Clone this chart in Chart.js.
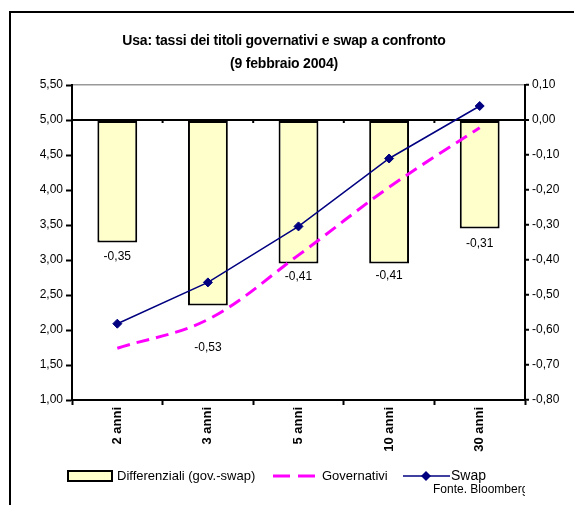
<!DOCTYPE html>
<html>
<head>
<meta charset="utf-8">
<script src="https://cdn.jsdelivr.net/npm/chart.js@4/dist/chart.umd.min.js"></script>
<style>
html,body{margin:0;padding:0;background:#fff;}
#wrap{width:574px;height:505px;position:relative;}
</style>
</head>
<body>
<div id="wrap"><canvas id="c" width="574" height="505"></canvas></div>
<script>
// ---- data ----
const categories = ['2 anni', '3 anni', '5 anni', '10 anni', '30 anni'];
const differenziali = [-0.35, -0.53, -0.41, -0.41, -0.31];
const governativi = [1.74, 2.15, 3.07, 4.04, 4.89];
const swap = [2.09, 2.68, 3.48, 4.45, 5.20];
const titleLines = ['Usa: tassi dei titoli governativi e swap a confronto', '(9 febbraio 2004)'];
const legendLabels = ['Differenziali (gov.-swap)', 'Governativi', 'Swap'];
const sourceNote = 'Fonte. Bloomberg';

// ---- styles ----
const FONT = "'Liberation Sans', Arial, sans-serif";
const labelOffsets = [14, 42, 13, 12, 15];
const barFill = '#FFFFCC';
const govColor = '#FF00FF';
const swapColor = '#000080';

function fmt(v) {
  if (Math.abs(v) < 1e-9) v = 0;
  return v.toFixed(2).replace('.', ',');
}

Chart.defaults.font.family = FONT;
Chart.defaults.color = '#000';

const extras = {
  id: 'extras',
  beforeDraw(chart) {
    const ctx = chart.ctx;
    ctx.save();
    ctx.fillStyle = '#fff';
    ctx.fillRect(0, 0, chart.width, chart.height);
    ctx.restore();
  },
  afterDatasetsDraw(chart) {
    const ctx = chart.ctx;
    // bar value labels
    const meta = chart.getDatasetMeta(2);
    ctx.save();
    ctx.font = '12px ' + FONT;
    ctx.fillStyle = '#000';
    ctx.textAlign = 'center';
    ctx.textBaseline = 'middle';
    meta.data.forEach((bar, i) => {
      ctx.fillText(fmt(differenziali[i]), bar.x, bar.y + labelOffsets[i]);
    });
    ctx.restore();
  },
  afterDraw(chart) {
    const ctx = chart.ctx;
    const xs = chart.scales.x;
    const y2 = chart.scales.y2;
    ctx.save();
    // small ticks on the zero line at category boundaries
    const zy = y2.getPixelForValue(0);
    ctx.strokeStyle = '#000';
    ctx.lineWidth = 2;
    for (let i = 0; i < categories.length - 1; i++) {
      const bx = (xs.getPixelForTick(i) + xs.getPixelForTick(i + 1)) / 2;
      ctx.beginPath();
      ctx.moveTo(bx, zy);
      ctx.lineTo(bx, zy + 3);
      ctx.stroke();
    }
    // outer border
    ctx.lineWidth = 2;
    ctx.strokeStyle = '#000';
    ctx.strokeRect(10, 12, chart.width + 10, chart.height + 10);
    // title
    ctx.fillStyle = '#000';
    ctx.textAlign = 'center';
    ctx.textBaseline = 'middle';
    ctx.font = 'bold 14px ' + FONT;
    try { ctx.letterSpacing = '-0.2px'; } catch (e) {}
    ctx.fillText(titleLines[0], 284, 41);
    ctx.fillText(titleLines[1], 284, 64);
    try { ctx.letterSpacing = '0px'; } catch (e) {}
    // legend
    const ly = 476;
    ctx.font = '13px ' + FONT;
    ctx.textAlign = 'left';
    ctx.fillStyle = barFill;
    ctx.fillRect(68, ly - 5, 44, 10);
    ctx.lineWidth = 2;
    ctx.strokeStyle = '#000';
    ctx.strokeRect(68, ly - 5, 44, 10);
    ctx.fillStyle = '#000';
    ctx.fillText(legendLabels[0], 117, ly);
    ctx.strokeStyle = govColor;
    ctx.lineWidth = 3;
    ctx.setLineDash([17, 8]);
    ctx.beginPath();
    ctx.moveTo(273, ly);
    ctx.lineTo(315, ly);
    ctx.stroke();
    ctx.setLineDash([]);
    ctx.fillText(legendLabels[1], 322, ly);
    ctx.strokeStyle = swapColor;
    ctx.lineWidth = 1.5;
    ctx.beginPath();
    ctx.moveTo(403, ly);
    ctx.lineTo(450, ly);
    ctx.stroke();
    ctx.fillStyle = swapColor;
    ctx.beginPath();
    ctx.moveTo(426, ly - 5);
    ctx.lineTo(431, ly);
    ctx.lineTo(426, ly + 5);
    ctx.lineTo(421, ly);
    ctx.closePath();
    ctx.fill();
    ctx.fillStyle = '#000';
    ctx.font = '14px ' + FONT;
    ctx.fillText(legendLabels[2], 451, ly);
    // source note, clipped
    ctx.save();
    ctx.beginPath();
    ctx.rect(0, 480, 525, 25);
    ctx.clip();
    ctx.font = '12px ' + FONT;
    ctx.fillText(sourceNote, 433, 490);
    ctx.restore();
    ctx.restore();
  }
};

new Chart(document.getElementById('c'), {
  type: 'bar',
  data: {
    labels: categories,
    datasets: [
      {
        type: 'line',
        label: legendLabels[2],
        data: swap,
        yAxisID: 'y',
        borderColor: swapColor,
        backgroundColor: swapColor,
        borderWidth: 1.5,
        pointStyle: 'rectRot',
        pointRadius: 4.5,
        pointBorderWidth: 1,
        tension: 0,
        order: 0
      },
      {
        type: 'line',
        label: legendLabels[1],
        data: governativi,
        yAxisID: 'y',
        borderColor: govColor,
        borderWidth: 3,
        borderDash: [13, 7],
        pointRadius: 0,
        tension: 0.35,
        order: 1
      },
      {
        type: 'bar',
        label: legendLabels[0],
        data: differenziali,
        yAxisID: 'y2',
        backgroundColor: barFill,
        borderColor: '#000',
        borderWidth: 2,
        borderSkipped: false,
        barPercentage: 0.44,
        categoryPercentage: 1,
        order: 2
      }
    ]
  },
  options: {
    responsive: false,
    animation: false,
    layout: { padding: { top: 85, left: 0, right: 0, bottom: 0 } },
    plugins: { legend: { display: false }, title: { display: false }, tooltip: { enabled: false } },
    scales: {
      x: {
        offset: true,
        grid: { display: true, drawOnChartArea: false, drawTicks: true, tickLength: 5, tickColor: '#000', tickWidth: 2, offset: true },
        border: { display: true, color: '#000', width: 2 },
        ticks: { minRotation: 90, maxRotation: 90, padding: 2, font: { size: 13, weight: 'bold' }, color: '#000', autoSkip: false },
        afterFit(s) { s.height = 105; }
      },
      y: {
        position: 'left',
        min: 1, max: 5.5,
        grid: { drawOnChartArea: false, drawTicks: true, tickLength: 6, tickColor: '#000', tickWidth: 2 },
        border: { display: true, color: '#000', width: 2 },
        ticks: { stepSize: 0.5, padding: 3, font: { size: 12 }, color: '#000', callback: v => fmt(v) },
        afterFit(s) { s.width = 72; }
      },
      y2: {
        position: 'right',
        min: -0.8, max: 0.1,
        grid: {
          drawOnChartArea: true,
          drawTicks: true,
          tickLength: 4,
          tickColor: '#000',
          tickWidth: 2,
          color: c => (Math.abs(c.tick.value) < 1e-6 ? '#000' : (Math.abs(c.tick.value - 0.1) < 1e-6 ? '#999' : 'rgba(0,0,0,0)')),
          lineWidth: c => (Math.abs(c.tick.value) < 1e-6 ? 2 : 1.5)
        },
        border: { display: true, color: '#000', width: 2 },
        ticks: { stepSize: 0.1, padding: 3, font: { size: 12 }, color: '#000', callback: v => fmt(v) },
        afterFit(s) { s.width = 49; }
      }
    }
  },
  plugins: [extras]
});
</script>
</body>
</html>
